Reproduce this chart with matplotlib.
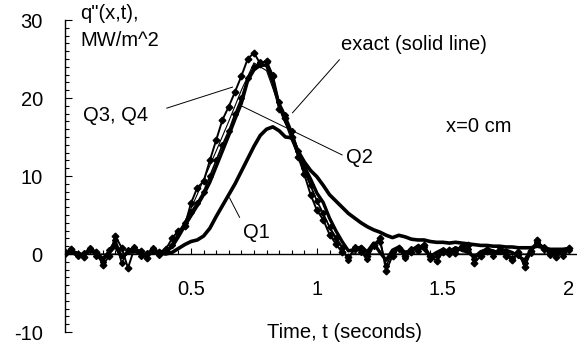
import matplotlib
matplotlib.use("Agg")
import matplotlib.pyplot as plt
from matplotlib.ticker import MultipleLocator

plt.rcParams['font.family'] = ['Liberation Sans', 'DejaVu Sans']

# time grid (seconds)
t = [0.0, 0.025, 0.05, 0.075, 0.1, 0.125, 0.15, 0.175, 0.2, 0.225,
     0.25, 0.275, 0.3, 0.325, 0.35, 0.375, 0.4, 0.425, 0.45, 0.475,
     0.5, 0.525, 0.55, 0.575, 0.6, 0.625, 0.65, 0.675, 0.7, 0.725,
     0.75, 0.775, 0.8, 0.825, 0.85, 0.875, 0.9, 0.925, 0.95, 0.975,
     1.0, 1.025, 1.05, 1.075, 1.1, 1.125, 1.15, 1.175, 1.2, 1.225,
     1.25, 1.275, 1.3, 1.325, 1.35, 1.375, 1.4, 1.425, 1.45, 1.475,
     1.5, 1.525, 1.55, 1.575, 1.6, 1.625, 1.65, 1.675, 1.7, 1.725,
     1.75, 1.775, 1.8, 1.825, 1.85, 1.875, 1.9, 1.925, 1.95, 1.975, 2.0]

q_Q1 = [0.0, 0.3, -0.2, 0.0, 0.4, 0.1, -0.6, 0.2, 1.0, -0.4,
        0.2, 0.4, 0.0, -0.2, 0.3, 0.1, 0.0, 0.2, 0.7, 1.2,
        1.6, 1.8, 2.3, 3.3, 4.8, 6.2, 7.6, 9.0, 10.6, 12.2,
        13.8, 15.2, 16.0, 16.3, 15.8, 15.0, 14.9, 13.2, 11.8, 10.7,
        9.9, 8.8, 7.6, 6.8, 6.0, 5.2, 4.6, 4.0, 3.5, 3.1,
        2.8, 2.4, 2.1, 2.4, 2.2, 1.9, 1.8, 1.8, 1.6, 1.5,
        1.5, 1.4, 1.5, 1.4, 1.3, 1.2, 1.1, 1.1, 1.0, 1.0,
        0.9, 0.9, 0.8, 0.8, 0.8, 1.0, 0.8, 0.6, 0.6, 0.6, 0.7]

q_Q2 = [0.0, 0.4, 0.1, -0.2, 0.5, 0.2, -0.8, 0.3, 1.5, -0.5,
        0.3, 0.6, 0.1, -0.3, 0.4, 0.2, 0.3, 0.9, 2.2, 3.6,
        4.9, 6.2, 7.6, 9.2, 11.2, 13.2, 15.2, 17.3, 19.3, 22.2,
        23.6, 24.2, 24.2, 22.0, 19.0, 17.0, 15.4, 13.0, 11.2, 9.6,
        7.8, 6.6, 4.6, 3.0, 1.6, 0.4, 0.6, 0.9, 0.3, 1.4,
        0.2, -0.8, 0.5, 0.9, 0.2, 0.5, 1.0, 0.6, -0.3, 0.2,
        0.6, 0.3, 0.8, 0.5, 0.2, -0.4, 0.3, 0.6, 0.4, 0.1,
        0.5, 0.2, -0.3, -0.8, 0.6, 1.4, 0.8, 0.2, 0.1, 0.4, 0.7]

q_Q3 = [0.2, 0.6, 0.0, -0.4, 0.7, 0.3, -1.4, -0.3, 2.3, 0.8,
        -1.8, 0.7, 0.4, -0.5, 0.6, 0.3, 0.6, 2.0, 3.0, 3.6,
        6.5, 8.5, 9.3, 12.0, 14.6, 17.2, 18.9, 20.8, 22.8, 25.0,
        25.8, 24.4, 24.8, 22.8, 18.6, 17.5, 15.0, 12.5, 10.2, 7.6,
        5.6, 4.4, 2.5, 1.3, 0.2, -0.4, 0.6, 0.8, -0.2, 1.2,
        2.0, -2.2, -0.2, 0.8, -0.3, 0.3, 0.9, 1.2, -0.2, -0.9,
        0.2, 0.5, 0.1, 0.8, 1.2, -1.1, -0.3, 0.4, 0.1, 0.6,
        -0.2, -0.8, 0.2, -1.7, 0.4, 1.8, 0.6, 0.3, -0.4, 0.2, 0.8]

q_Q4 = [0.0, 0.5, -0.2, 0.1, 0.8, -0.3, -1.0, 0.5, 1.8, -1.2,
        0.5, 0.9, -0.2, 0.1, 0.8, -0.1, 0.4, 1.2, 2.8, 4.0,
        5.4, 6.6, 8.0, 10.0, 12.0, 14.0, 15.8, 18.0, 20.0, 22.6,
        24.0, 24.6, 24.6, 23.0, 19.5, 17.8, 15.8, 13.2, 11.0, 8.8,
        6.8, 5.2, 3.4, 2.0, 0.8, -0.8, 0.9, 0.2, -0.6, 1.0,
        1.6, -1.5, 0.2, 0.6, -0.5, 0.7, 0.4, 0.9, -0.6, -0.3,
        0.5, 0.0, 0.6, 1.0, 0.6, -0.7, 0.1, 0.7, -0.2, 0.4,
        0.2, -0.5, -0.1, -1.2, 0.1, 1.5, 0.9, -0.1, 0.2, -0.2, 0.5]

t_exact = [0.0, 0.4, 0.45, 0.5, 0.55, 0.6, 0.65, 0.7, 0.75, 0.8,
           0.85, 0.9, 0.95, 1.0, 1.05, 1.1, 1.15, 2.0]
q_exact = [0.0, 0.0, 2.5, 5.8, 9.5, 13.2, 17.0, 21.0, 24.5, 23.5,
           19.0, 14.5, 10.5, 6.8, 3.5, 1.0, 0.0, 0.0]

x_ticks = [0.5, 1, 1.5, 2]
x_labels = ['0.5', '1', '1.5', '2']
y_ticks = [-10, 0, 10, 20, 30]
y_labels = ['-10', '0', '10', '20', '30']

fig = plt.figure(figsize=(5.77, 3.51), dpi=100)
ax = fig.add_axes([65 / 577, 19 / 351, 1 - 65 / 577 - 0.001, 312 / 351])
ax.set_xlim(0, 2.03)
ax.set_ylim(-10, 30)

ax.plot(t, q_Q1, color='black', lw=2.6, solid_joinstyle='round')
ax.plot(t, q_Q2, color='black', lw=2.4, solid_joinstyle='round')
ax.plot(t, q_Q3, color='black', lw=1.4, marker='D', ms=3.4)
ax.plot(t, q_Q4, color='black', lw=1.2, marker='D', ms=3.0)
ax.plot(t_exact, q_exact, color='black', lw=0.8)

for s in ['top', 'right']:
    ax.spines[s].set_visible(False)
ax.spines['bottom'].set_position(('data', 0))
ax.spines['left'].set_position(('data', 0))
ax.spines['left'].set_linewidth(1.0)
ax.spines['bottom'].set_linewidth(1.0)

ax.set_xticks(x_ticks)
ax.set_xticklabels(x_labels)
ax.set_yticks(y_ticks)
ax.set_yticklabels(y_labels)
ax.xaxis.set_minor_locator(MultipleLocator(0.05))
ax.yaxis.set_minor_locator(MultipleLocator(1))
ax.tick_params(axis='x', which='both', direction='in', pad=19, labelsize=14.5)
ax.tick_params(axis='y', which='both', direction='in', pad=16, labelsize=14.5)
ax.tick_params(which='major', length=4, width=0.8)
ax.tick_params(which='minor', length=3, width=0.8)
ax.tick_params(axis='y', which='major', length=5)

fs = 14.5
ax.text(0.06, 30.8, 'q"(x,t),', fontsize=fs, ha='left', va='center')
ax.text(0.06, 27.4, 'MW/m^2', fontsize=fs, ha='left', va='center')
ax.text(1.097, 26.8, 'exact (solid line)', fontsize=fs, ha='left', va='center')
ax.text(1.513, 16.3, 'x=0 cm', fontsize=fs, ha='left', va='center')
ax.text(1.117, 12.4, 'Q2', fontsize=fs, ha='left', va='center')
ax.text(0.071, 17.7, 'Q3, Q4', fontsize=fs, ha='left', va='center')
ax.text(0.705, 2.8, 'Q1', fontsize=fs, ha='left', va='center')
ax.text(1.109, -10.0, 'Time, t (seconds)', fontsize=fs, ha='center', va='center')

lk = dict(color='black', lw=0.7)
ax.plot([0.404, 0.665], [18.7, 21.4], **lk)
ax.plot([0.693, 1.10], [19.1, 12.7], **lk)
ax.plot([1.089, 0.903], [24.9, 18.1], **lk)
ax.plot([0.653, 0.693], [7.2, 4.7], **lk)

fig.savefig('out.png', dpi=100)
